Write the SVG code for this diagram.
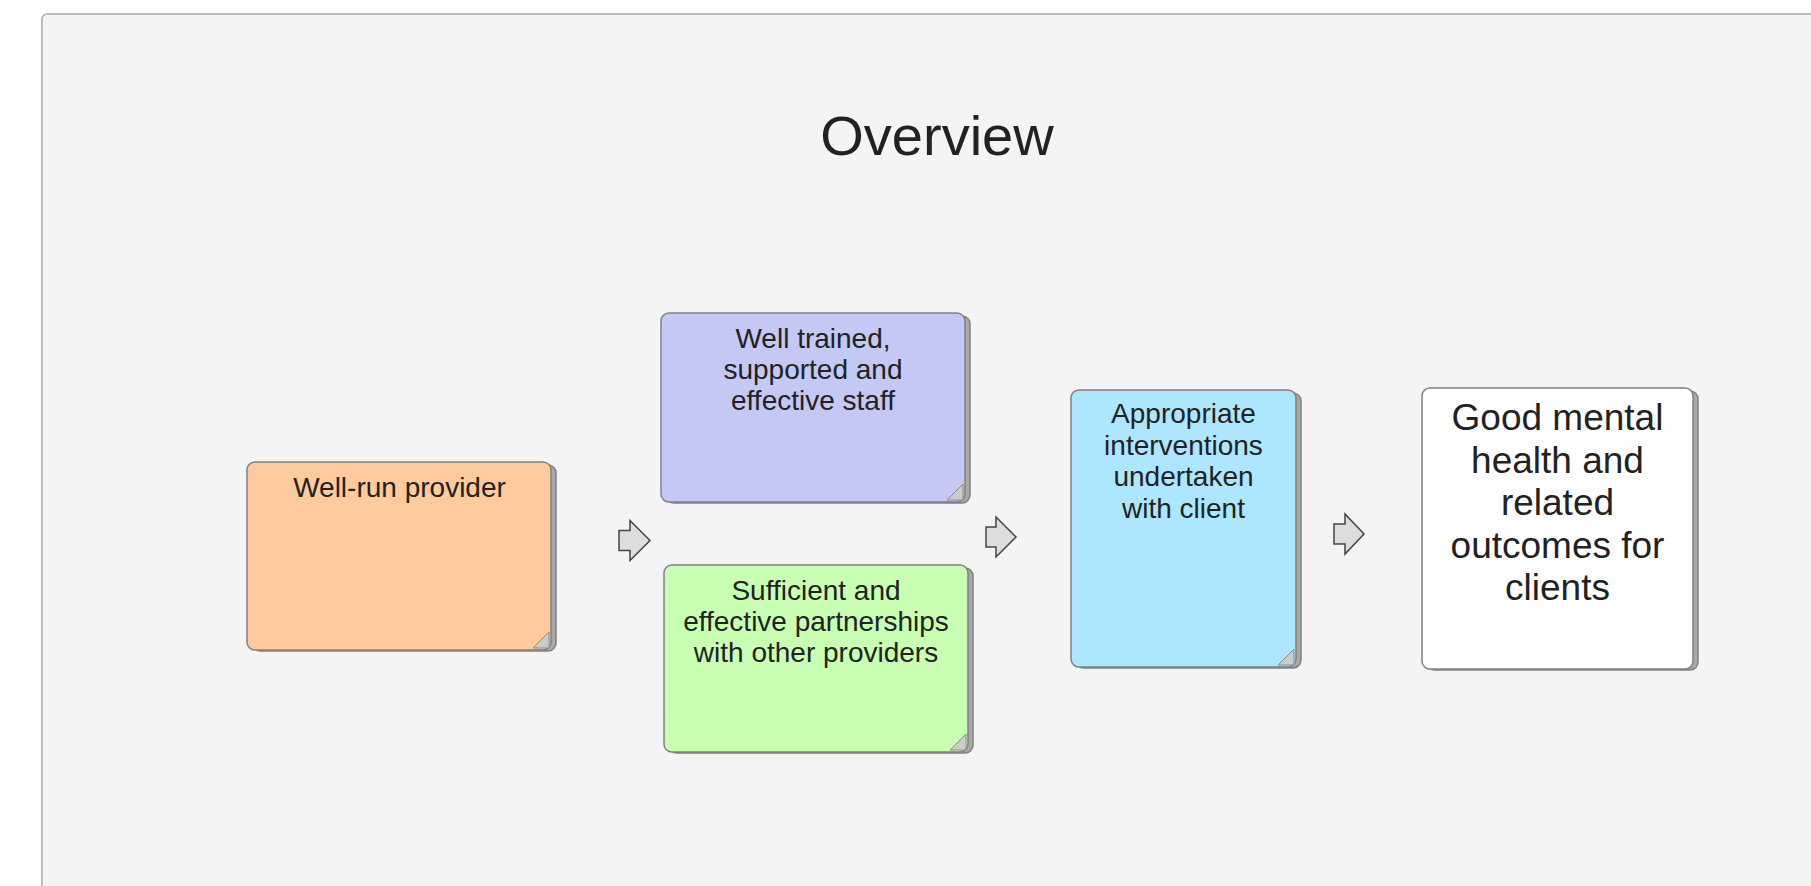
<svg xmlns="http://www.w3.org/2000/svg" width="1811" height="886" viewBox="0 0 1811 886">
  <style>
    .lbl { font-family: "Liberation Sans", Arial, Helvetica, sans-serif; fill: #222222; text-anchor: middle; }
    .s28 { font-size: 28px; }
    .s37 { font-size: 37px; }
    .title { font-size: 56px; }
    .sheet { stroke: #808080; stroke-width: 1.5; }
    .back { fill: #a9a9a9; stroke: #808080; stroke-width: 1.5; }
    .fold { fill: #cccccc; stroke: #8a8a8a; stroke-width: 1; }
    .arrow { fill: #dddddd; stroke: #444444; stroke-width: 1.5; stroke-linejoin: miter; }
  </style>
  <rect x="0" y="0" width="1811" height="886" fill="#ffffff"/>
  <rect id="panel" x="42" y="14" width="1800" height="900" rx="5" ry="5" fill="#f4f4f4" stroke="#a8a8a8" stroke-width="1.5"/>
  <text id="title" class="lbl title" x="937" y="155">Overview</text>

  <g id="node-provider">
    <rect class="back" x="252" y="465" width="304" height="186" rx="8"/>
    <rect class="sheet" x="247" y="462" width="304" height="188" rx="8" fill="#ffca9e"/>
    <polygon class="fold" points="533,648 549,632 549,648"/>
    <text class="lbl s28" x="399.5" y="496.5">Well-run provider</text>
  </g>

  <g id="node-staff">
    <rect class="back" x="666" y="316" width="304" height="187" rx="8"/>
    <rect class="sheet" x="661" y="313" width="304" height="189" rx="8" fill="#c4c8f4"/>
    <polygon class="fold" points="947,500 963,484 963,500"/>
    <text class="lbl s28" x="813" y="348.3">Well trained,</text>
    <text class="lbl s28" x="813" y="379.3">supported and</text>
    <text class="lbl s28" x="813" y="410.3">effective staff</text>
  </g>

  <g id="node-partnerships">
    <rect class="back" x="669" y="568" width="304" height="185" rx="8"/>
    <rect class="sheet" x="664" y="565" width="304" height="187" rx="8" fill="#c8ffb2"/>
    <polygon class="fold" points="950,750 966,734 966,750"/>
    <text class="lbl s28" x="816" y="599.5">Sufficient and</text>
    <text class="lbl s28" x="816" y="630.5">effective partnerships</text>
    <text class="lbl s28" x="816" y="661.5">with other providers</text>
  </g>

  <g id="node-interventions">
    <rect class="back" x="1076" y="393" width="225" height="275" rx="8"/>
    <rect class="sheet" x="1071" y="390" width="225" height="277" rx="8" fill="#ade6ff"/>
    <polygon class="fold" points="1278,665 1294,649 1294,665"/>
    <text class="lbl s28" x="1183.5" y="423.3">Appropriate</text>
    <text class="lbl s28" x="1183.5" y="454.8">interventions</text>
    <text class="lbl s28" x="1183.5" y="486.3">undertaken</text>
    <text class="lbl s28" x="1183.5" y="517.8">with client</text>
  </g>

  <g id="node-outcomes">
    <rect class="back" x="1427" y="391" width="271" height="279" rx="8"/>
    <rect class="sheet" x="1422" y="388" width="271" height="281" rx="8" fill="#ffffff"/>
    <text class="lbl s37" x="1557.5" y="430">Good mental</text>
    <text class="lbl s37" x="1557.5" y="472.5">health and</text>
    <text class="lbl s37" x="1557.5" y="515">related</text>
    <text class="lbl s37" x="1557.5" y="557.5">outcomes for</text>
    <text class="lbl s37" x="1557.5" y="600">clients</text>
  </g>

  <g id="connectors">
    <polygon class="arrow" points="619,530.5 630,530.5 630,520.5 650,540.5 630,560.5 630,550.5 619,550.5"/>
    <polygon class="arrow" points="986,527 996,527 996,517 1016,537 996,557 996,547 986,547"/>
    <polygon class="arrow" points="1334,524 1345,524 1345,514 1364,534 1345,554 1345,544 1334,544"/>
  </g>
</svg>
